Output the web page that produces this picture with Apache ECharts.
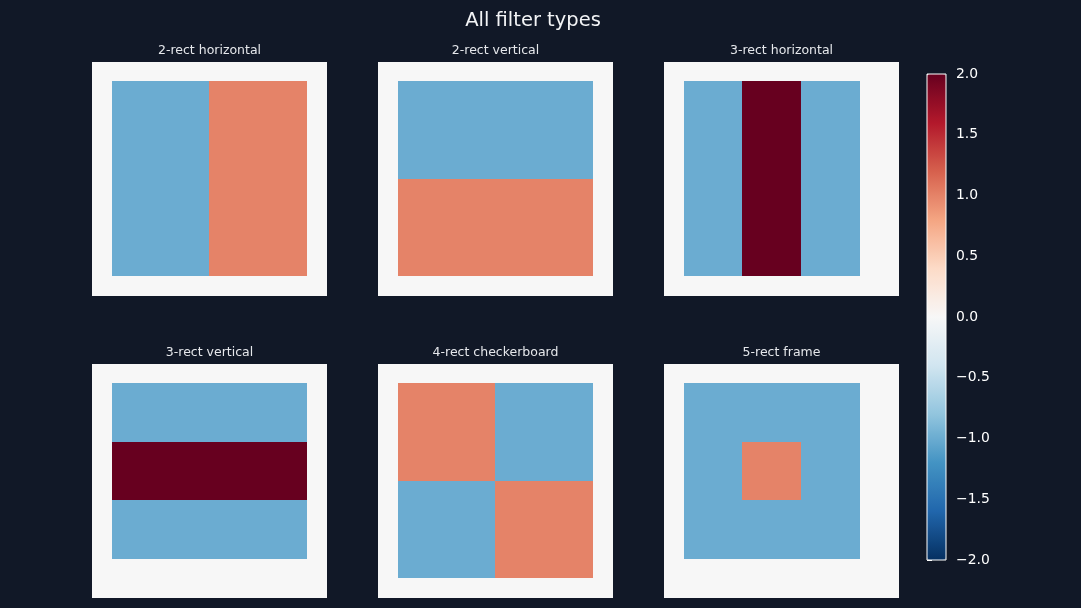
<!DOCTYPE html>
<html><head><meta charset="utf-8">
<script src="https://cdn.jsdelivr.net/npm/echarts@6/dist/echarts.min.js"></script>
<style>html,body{margin:0;padding:0;background:#111827}#c{width:1081px;height:608px}</style>
</head><body><div id="c"></div><script>
const mainTitle = 'All filter types';
const panelTitles = ['2-rect horizontal', '2-rect vertical', '3-rect horizontal', '3-rect vertical', '4-rect checkerboard', '5-rect frame'];
const colorbarTicks = [-2, -1.5, -1, -0.5, 0, 0.5, 1, 1.5, 2];

const rect2H = [
  [0,0,0,0,0,0,0,0,0,0,0,0],
  [0,-1,-1,-1,-1,-1,1,1,1,1,1,0],
  [0,-1,-1,-1,-1,-1,1,1,1,1,1,0],
  [0,-1,-1,-1,-1,-1,1,1,1,1,1,0],
  [0,-1,-1,-1,-1,-1,1,1,1,1,1,0],
  [0,-1,-1,-1,-1,-1,1,1,1,1,1,0],
  [0,-1,-1,-1,-1,-1,1,1,1,1,1,0],
  [0,-1,-1,-1,-1,-1,1,1,1,1,1,0],
  [0,-1,-1,-1,-1,-1,1,1,1,1,1,0],
  [0,-1,-1,-1,-1,-1,1,1,1,1,1,0],
  [0,-1,-1,-1,-1,-1,1,1,1,1,1,0],
  [0,0,0,0,0,0,0,0,0,0,0,0]
];
const rect2V = [
  [0,0,0,0,0,0,0,0,0,0,0,0],
  [0,-1,-1,-1,-1,-1,-1,-1,-1,-1,-1,0],
  [0,-1,-1,-1,-1,-1,-1,-1,-1,-1,-1,0],
  [0,-1,-1,-1,-1,-1,-1,-1,-1,-1,-1,0],
  [0,-1,-1,-1,-1,-1,-1,-1,-1,-1,-1,0],
  [0,-1,-1,-1,-1,-1,-1,-1,-1,-1,-1,0],
  [0,1,1,1,1,1,1,1,1,1,1,0],
  [0,1,1,1,1,1,1,1,1,1,1,0],
  [0,1,1,1,1,1,1,1,1,1,1,0],
  [0,1,1,1,1,1,1,1,1,1,1,0],
  [0,1,1,1,1,1,1,1,1,1,1,0],
  [0,0,0,0,0,0,0,0,0,0,0,0]
];
const rect3H = [
  [0,0,0,0,0,0,0,0,0,0,0,0],
  [0,-1,-1,-1,2,2,2,-1,-1,-1,0,0],
  [0,-1,-1,-1,2,2,2,-1,-1,-1,0,0],
  [0,-1,-1,-1,2,2,2,-1,-1,-1,0,0],
  [0,-1,-1,-1,2,2,2,-1,-1,-1,0,0],
  [0,-1,-1,-1,2,2,2,-1,-1,-1,0,0],
  [0,-1,-1,-1,2,2,2,-1,-1,-1,0,0],
  [0,-1,-1,-1,2,2,2,-1,-1,-1,0,0],
  [0,-1,-1,-1,2,2,2,-1,-1,-1,0,0],
  [0,-1,-1,-1,2,2,2,-1,-1,-1,0,0],
  [0,-1,-1,-1,2,2,2,-1,-1,-1,0,0],
  [0,0,0,0,0,0,0,0,0,0,0,0]
];
const rect3V = [
  [0,0,0,0,0,0,0,0,0,0,0,0],
  [0,-1,-1,-1,-1,-1,-1,-1,-1,-1,-1,0],
  [0,-1,-1,-1,-1,-1,-1,-1,-1,-1,-1,0],
  [0,-1,-1,-1,-1,-1,-1,-1,-1,-1,-1,0],
  [0,2,2,2,2,2,2,2,2,2,2,0],
  [0,2,2,2,2,2,2,2,2,2,2,0],
  [0,2,2,2,2,2,2,2,2,2,2,0],
  [0,-1,-1,-1,-1,-1,-1,-1,-1,-1,-1,0],
  [0,-1,-1,-1,-1,-1,-1,-1,-1,-1,-1,0],
  [0,-1,-1,-1,-1,-1,-1,-1,-1,-1,-1,0],
  [0,0,0,0,0,0,0,0,0,0,0,0],
  [0,0,0,0,0,0,0,0,0,0,0,0]
];
const rect4C = [
  [0,0,0,0,0,0,0,0,0,0,0,0],
  [0,1,1,1,1,1,-1,-1,-1,-1,-1,0],
  [0,1,1,1,1,1,-1,-1,-1,-1,-1,0],
  [0,1,1,1,1,1,-1,-1,-1,-1,-1,0],
  [0,1,1,1,1,1,-1,-1,-1,-1,-1,0],
  [0,1,1,1,1,1,-1,-1,-1,-1,-1,0],
  [0,-1,-1,-1,-1,-1,1,1,1,1,1,0],
  [0,-1,-1,-1,-1,-1,1,1,1,1,1,0],
  [0,-1,-1,-1,-1,-1,1,1,1,1,1,0],
  [0,-1,-1,-1,-1,-1,1,1,1,1,1,0],
  [0,-1,-1,-1,-1,-1,1,1,1,1,1,0],
  [0,0,0,0,0,0,0,0,0,0,0,0]
];
const rect5F = [
  [0,0,0,0,0,0,0,0,0,0,0,0],
  [0,-1,-1,-1,-1,-1,-1,-1,-1,-1,0,0],
  [0,-1,-1,-1,-1,-1,-1,-1,-1,-1,0,0],
  [0,-1,-1,-1,-1,-1,-1,-1,-1,-1,0,0],
  [0,-1,-1,-1,1,1,1,-1,-1,-1,0,0],
  [0,-1,-1,-1,1,1,1,-1,-1,-1,0,0],
  [0,-1,-1,-1,1,1,1,-1,-1,-1,0,0],
  [0,-1,-1,-1,-1,-1,-1,-1,-1,-1,0,0],
  [0,-1,-1,-1,-1,-1,-1,-1,-1,-1,0,0],
  [0,-1,-1,-1,-1,-1,-1,-1,-1,-1,0,0],
  [0,0,0,0,0,0,0,0,0,0,0,0],
  [0,0,0,0,0,0,0,0,0,0,0,0]
];
const filters = [rect2H, rect2V, rect3H, rect3V, rect4C, rect5F];

const rdbuR = ['#053061','#2166ac','#4393c3','#92c5de','#d1e5f0','#f7f7f7','#fddbc7','#f4a582','#d6604d','#b2182b','#67001f'];
const lefts = [92, 378, 664];
const tops = [62, 364];
const cellIdx = Array.from({length: 12}, (_, i) => i);
const hiddenAxis = {show: false, axisLine: {show: false}, axisTick: {show: false}, axisLabel: {show: false},
  splitLine: {show: false}, splitArea: {show: false}};

// Draw a cell with edges snapped to whole pixels so neighbouring cells share edges (no seams)
const snap = v => Math.ceil(Math.round(v * 1000) / 1000 - 0.5);
function renderCell(params, api) {
  const c = api.coord([api.value(0), api.value(1)]);
  const s = api.size([1, 1]);
  const x0 = snap(c[0] - s[0] / 2), x1 = snap(c[0] + s[0] / 2);
  const y0 = snap(c[1] - s[1] / 2), y1 = snap(c[1] + s[1] / 2);
  return {type: 'rect', shape: {x: x0, y: y0, width: x1 - x0, height: y1 - y0},
    style: {fill: api.visual('color')}};
}

const grids = [], xAxes = [], yAxes = [], series = [], titles = [];
titles.push({text: mainTitle, left: 528, top: 6, textAlign: 'center',
  textStyle: {color: '#f3f4f6', fontSize: 19.5, fontWeight: 'normal', fontFamily: 'DejaVu Sans'}});
filters.forEach((m, k) => {
  const L = lefts[k % 3], T = tops[Math.floor(k / 3)];
  grids.push({left: L, top: T, width: 235, height: 234, containLabel: false, show: false});
  xAxes.push(Object.assign({type: 'category', gridIndex: k, data: cellIdx}, hiddenAxis));
  yAxes.push(Object.assign({type: 'category', gridIndex: k, data: cellIdx, inverse: true}, hiddenAxis));
  const data = [];
  m.forEach((row, r) => row.forEach((v, c) => data.push([c, r, v])));
  series.push({type: 'custom', xAxisIndex: k, yAxisIndex: k, data, renderItem: renderCell,
    encode: {x: 0, y: 1}, silent: true});
  titles.push({text: panelTitles[k], left: L + 112.5, top: T - 23, textAlign: 'center',
    textStyle: {color: '#e5e7eb', fontSize: 12.5, fontWeight: 'normal', fontFamily: 'DejaVu Sans'}});
});
// colorbar frame + ticks
grids.push({left: 927, top: 74, width: 19, height: 486, show: true, borderColor: '#ffffff', borderWidth: 1, backgroundColor: 'transparent', z: 5});
xAxes.push(Object.assign({type: 'value', gridIndex: 6}, hiddenAxis));
yAxes.push({type: 'value', gridIndex: 6, position: 'right', min: -2, max: 2, interval: 0.5,
  axisLine: {show: false}, splitLine: {show: false},
  axisTick: {show: true, length: 5, lineStyle: {color: '#ffffff'}},
  axisLabel: {color: '#ffffff', fontSize: 13.9, fontFamily: 'DejaVu Sans', margin: 10,
    formatter: v => (colorbarTicks.includes(v) ? v.toFixed(1).replace('-', '\u2212') : '')}});

const chart = echarts.init(document.getElementById('c'), null, {renderer: 'canvas'});
chart.setOption({
  backgroundColor: '#111827',
  animation: false,
  title: titles,
  grid: grids, xAxis: xAxes, yAxis: yAxes,
  visualMap: {type: 'continuous', min: -2, max: 2, dimension: 2, seriesIndex: [0,1,2,3,4,5], calculable: false,
    orient: 'vertical', left: 927, top: 74, padding: 0, itemWidth: 19, itemHeight: 486,
    text: null, showLabel: false, hoverLink: false, inRange: {color: rdbuR}, z: 2},
  series
});
</script></body></html>
